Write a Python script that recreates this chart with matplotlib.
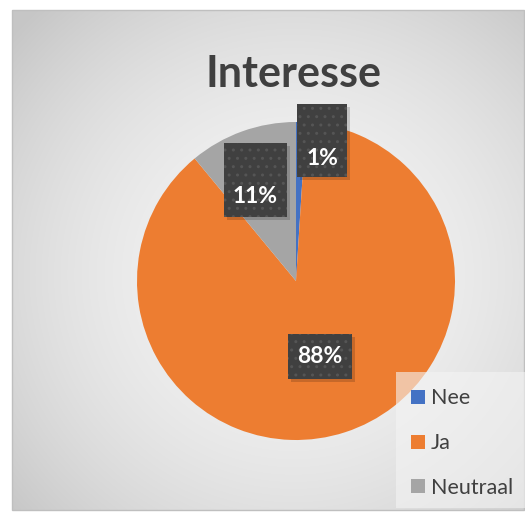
import numpy as np
import matplotlib
matplotlib.use("Agg")
import matplotlib.pyplot as plt
from matplotlib.patches import Rectangle, Patch

# ---- data ----
title = "Interesse"
categories = ["Nee", "Ja", "Neutraal"]
values = [1, 88, 11]
colors = ["#4472C4", "#ED7D31", "#A5A5A5"]
pct_labels = ["1%", "88%", "11%"]

# ---- layout (pixels) ----
W, H = 525, 512
cx, cy, R = 296, 281, 159           # pie centre / radius in pixels (y from top)
s = 1.0 / R                          # pixel -> data units

fig = plt.figure(figsize=(W / 100, H / 100), dpi=100)
ax = fig.add_axes([0, 0, 1, 1])
x0, x1 = -cx * s, (W - cx) * s
y0, y1 = -(H - cy) * s, cy * s
ax.set_xlim(x0, x1)
ax.set_ylim(y0, y1)
ax.set_aspect("auto")
ax.axis("off")

def P(px, py):
    """pixel (from top-left) -> data coords"""
    return (px - cx) * s, (cy - py) * s

# white page + chart area with radial gradient
ax.add_patch(Rectangle((x0, y0), x1 - x0, y1 - y0, facecolor="white", zorder=0))
bx0, by0 = P(12, 510)
bx1, by1 = P(524, 10)
gx = np.linspace(0, 1, 300)
gy = np.linspace(0, 1, 300)
GX, GY = np.meshgrid(gx, gy)
d2 = ((GX - 0.55) ** 2 + (GY - 0.47) ** 2) / 0.53
val = 0.955 - 0.175 * np.clip(d2, 0, 1)
img = np.dstack([val, val, val])
ax.imshow(img, extent=(bx0, bx1, by0, by1), origin="lower", zorder=1,
          interpolation="bilinear", aspect="auto")
ax.add_patch(Rectangle((bx0, by0), bx1 - bx0, by1 - by0, facecolor="none",
                       edgecolor="#BFBFBF", linewidth=1.0, zorder=2))

# ---- pie ----
wedges, _ = ax.pie(values, colors=colors, startangle=90, counterclock=False,
                   radius=1.0, center=(0, 0), frame=True,
                   wedgeprops=dict(linewidth=0))
for w in wedges:
    w.set_zorder(3)
ax.set_xlim(x0, x1)
ax.set_ylim(y0, y1)
ax.axis("off")

# ---- data labels (positioned along each wedge's mid-angle) ----
label_r = [0.79, 0.50, 0.588]                     # radial position (fraction of R)
label_ang_shift = [-10.6, -0.5, 6.2]              # degrees
# box w, h (px) and box-centre offset from text (px, +dy = downwards)
box_px = [(50, 73, -1, -18), (64, 45, 0, 0), (63, 74, 0, -17)]
for w, lab, r, sh, (bw, bh, bdx, bdy) in zip(wedges, pct_labels, label_r,
                                              label_ang_shift, box_px):
    ang = np.deg2rad((w.theta1 + w.theta2) / 2 + sh)
    tx, ty = r * np.cos(ang), r * np.sin(ang)
    bcx, bcy = tx + bdx * s, ty - bdy * s
    # shadow
    ax.add_patch(Rectangle((bcx - bw / 2 * s + 3 * s, bcy - bh / 2 * s - 3 * s),
                           bw * s, bh * s, facecolor="black", alpha=0.16,
                           linewidth=0, zorder=4))
    ax.add_patch(Rectangle((bcx - bw / 2 * s, bcy - bh / 2 * s), bw * s, bh * s,
                           facecolor="#404040", linewidth=0, zorder=5))
    ax.add_patch(Rectangle((bcx - bw / 2 * s, bcy - bh / 2 * s), bw * s, bh * s,
                           facecolor="none", edgecolor="#555555", hatch="..",
                           linewidth=0, zorder=6))
    ax.text(tx, ty, lab, ha="center", va="center", color="white",
            fontsize=16.5, fontweight="bold", family="Lato", zorder=7)

# ---- title ----
tx_, ty_ = P(293, 74)
ax.text(tx_, ty_, title, ha="center", va="center", fontsize=31,
        fontweight="bold", color="#404040", family="Lato", zorder=8)

# ---- legend ----
lx0, ly0 = P(396, 508)
lx1, ly1 = P(525, 372)
ax.add_patch(Rectangle((lx0, ly0), lx1 - lx0, ly1 - ly0, facecolor="#F4F4F4",
                       alpha=0.6, linewidth=0, zorder=8))
handles = [Patch(facecolor=c, edgecolor="none") for c in colors]
leg = ax.legend(handles, categories, loc="upper left",
                bbox_to_anchor=P(392, 369), bbox_transform=ax.transData,
                frameon=False, labelspacing=1.15,
                handlelength=0.62, handleheight=0.62, handletextpad=0.3,
                prop=dict(family="Lato", size=15.5))
for t in leg.get_texts():
    t.set_color("#404040")
leg.set_zorder(9)

fig.savefig("out.png", dpi=100)
